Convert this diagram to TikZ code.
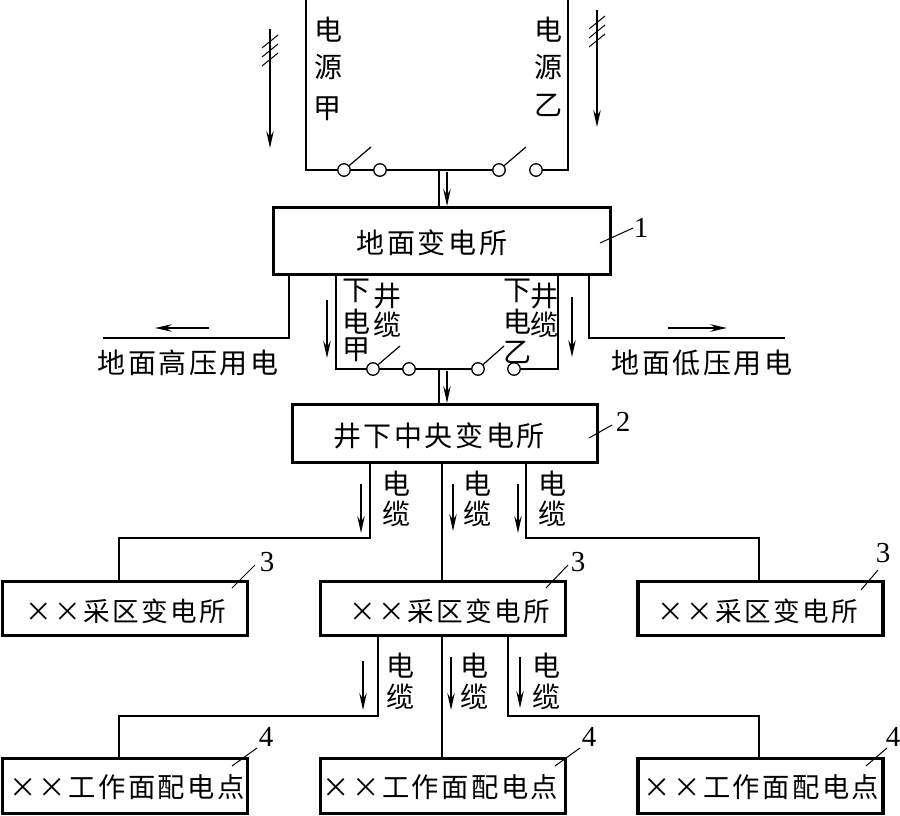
\documentclass[tikz,border=0pt]{standalone}
\usepackage{fontspec}
\usepackage{tikz}
\usetikzlibrary{arrows.meta}
\newfontfamily\cjk[LetterSpace=9]{Noto Sans CJK SC}
\newfontfamily\numfont{Liberation Serif}
\tikzset{
    station/.style={draw, line width=3.8pt, minimum height=#1, inner sep=0pt},
    word/.style={inner sep=0pt, font=\cjk\fontsize{28}{28}\selectfont},
    areaword/.style={inner sep=0pt, font=\cjk\fontsize{26.6}{27}\selectfont},
    faceword/.style={inner sep=0pt, font=\cjk\fontsize{27.3}{28}\selectfont},
    num/.style={inner sep=0pt, font=\numfont\fontsize{29}{29}\selectfont},
    contact/.style={draw, circle, fill=white, inner sep=0pt, minimum size=12.5pt, line width=1.3pt},
    wire/.style={line width=1.2pt},
    flow/.style={line width=1.2pt, -{Stealth[length=17pt,width=7.5pt,inset=6pt]}},
    leader/.style={line width=1pt}
}
\begin{document}
\begin{tikzpicture}[x=1pt,y=-1pt]
        \useasboundingbox (0,0) rectangle (900,816);
        % boxes
        \node[station=67pt, minimum width=337pt] (ground) at (442,241) {};
        \node[station=58pt, minimum width=305pt] (central) at (445,433.5) {};
        \foreach \n/\x in {L/125, M/443, R/760.5} {
            \node[station=54pt, minimum width=245pt] (area\n) at (\x,608.5) {};
            \node[station=55pt, minimum width=245pt] (face\n) at (\x,786) {};
        }
        \node[word] (groundtext) at (432,243) {地面变电所};
        \node[word] (centraltext) at (439,436) {井下中央变电所};
        \foreach \n/\x in {L/126, M/450, R/758} {
            \node[areaword] (areatext\n) at (\x,611) {××采区变电所};
        }
        \foreach \n/\x in {L/127, M/440.5, R/761.5} {
            \node[faceword] (facetext\n) at (\x,787) {××工作面配电点};
        }
        % switch contacts
        \foreach \n/\x/\y in {a/344/170, b/380/170, c/499/170, d/536/170, e/373/369, f/409/369, g/478/369, h/514/369} {
            \node[contact] (\n) at (\x,\y) {};
        }
        % wire corners
        \foreach \n/\x/\y in {tl/306/0, tlb/306/170, tr/568/0, trb/568/170, fa/439/170, fb/439/207,
            hva/289/275, hvb/289/338, hvc/103/338, lva/589/275, lvb/589/338, lvc/785/338,
            ia/336/275, ib/336/369, ic/558/275, id/558/369, ca/439/369, cb/439/404,
            da/370/463, db/370/538, dc/119/538, dd/119/581, ma/442/463, mb/442/581,
            ea/526/463, eb/526/538, ec/759/538, ed/759/581,
            ga/378/636, gb/378/716, gc/119/716, gd/119/758, ha/442/636, hb/442/758,
            ja/508/636, jb/508/716, jc/759/716, jd/759/758} {
            \coordinate (\n) at (\x,\y);
        }
        \draw[wire] (tl)--(tlb)--(a) (a)--(b) (b)--(c) (d)--(trb)--(tr);
        \draw[wire] (fa)--(fb);
        \draw[wire] (hva)--(hvb)--(hvc);
        \draw[wire] (lva)--(lvb)--(lvc);
        \draw[wire] (ia)--(ib)--(e) (e)--(f) (f)--(g) (h)--(id)--(ic);
        \draw[wire] (ca)--(cb);
        \draw[wire] (da)--(db)--(dc)--(dd);
        \draw[wire] (ma)--(mb);
        \draw[wire] (ea)--(eb)--(ec)--(ed);
        \draw[wire] (ga)--(gb)--(gc)--(gd);
        \draw[wire] (ha)--(hb);
        \draw[wire] (ja)--(jb)--(jc)--(jd);
        % switch blades
        \foreach \n/\x/\y in {a/371/147, c/526/147, e/400/346, g/504/346} {
            \coordinate (blade\n) at (\x,\y);
            \draw[wire] (\n)--(blade\n);
        }
        % flow arrows
        \foreach \i/\x/\y/\u/\v in {1/270/29/270/148, 2/597/10/597/127, 3/447/172/447/206, 4/209/328/155/328,
            5/668/328/727/328, 6/327/300/327/358, 7/572/297/572/357, 8/447/371/447/403,
            9/361/484/361/533, 10/453/484/453/531, 11/518/484/518/533,
            12/363/661/363/710, 13/451/657/451/710, 14/520/657/520/708} {
            \coordinate (fs\i) at (\x,\y);
            \coordinate (fe\i) at (\u,\v);
            \draw[flow] (fs\i)--(fe\i);
        }
        % three-phase ticks
        \foreach \x/\y in {270/42, 270/51, 270/60, 597/23, 597/32, 597/41} {
            \draw[line width=1pt] (\x-8,\y+6)--(\x+8,\y-7);
        }
        % upright labels
        \foreach \i/\t/\x/\y in {1/电/328/30, 2/源/328/67, 3/甲/327/109, 4/电/548/30, 5/源/548/67, 6/乙/548/105,
            7/下/356/291, 8/井/387/296, 9/电/356/322, 10/缆/387/325, 11/甲/356/350,
            12/下/517/291, 13/井/544/296, 14/电/517/322, 15/缆/544/325, 16/乙/517/352,
            17/电/396/484, 18/缆/396/514, 19/电/477/484, 20/缆/477/514, 21/电/552/484, 22/缆/552/514,
            23/电/400/666, 24/缆/400/697, 25/电/474/666, 26/缆/474/697, 27/电/546/666, 28/缆/546/697} {
            \node[word] (lab\i) at (\x,\y) {\t};
        }
        \node[word] (hvuse) at (188,363) {地面高压用电};
        \node[word] (lvuse) at (702,363) {地面低压用电};
        % reference numbers
        \foreach \i/\t/\x/\y/\a/\b/\c/\d in {1/1/641/228/600/243/633/228, 2/2/623/422/589/438/612/425,
            3/3/267/562/232/588/255/565, 4/3/578/562/546/588/568/565, 5/3/883/553/861/590/878/570,
            6/4/266/737/232/766/257/748, 7/4/589/737/555/766/580/748, 8/4/893/737/866/766/887/748} {
            \node[num] (num\i) at (\x,\y) {\t};
            \coordinate (ls\i) at (\a,\b);
            \coordinate (le\i) at (\c,\d);
            \draw[leader] (ls\i)--(le\i);
        }
    \end{tikzpicture}
\end{document}
